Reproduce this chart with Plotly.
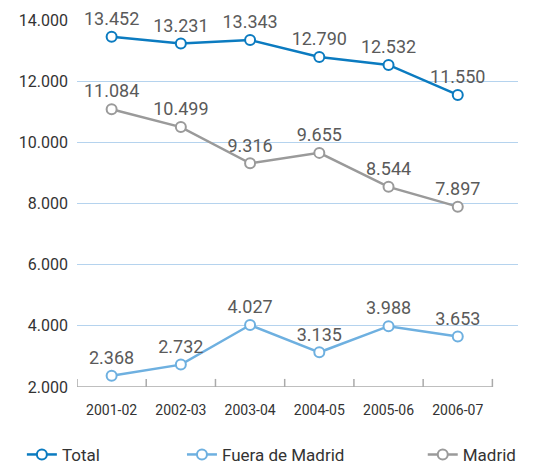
import plotly.graph_objects as go

categories = ["2001-02", "2002-03", "2003-04", "2004-05", "2005-06", "2006-07"]
total = [13452, 13231, 13343, 12790, 12532, 11550]
fuera = [2368, 2732, 4027, 3135, 3988, 3653]
madrid = [11084, 10499, 9316, 9655, 8544, 7897]
y_ticks = [2000, 4000, 6000, 8000, 10000, 12000, 14000]

series = [
    ("Total", total, "#0b7bc0", "legend"),
    ("Fuera de Madrid", fuera, "#6eb0e0", "legend2"),
    ("Madrid", madrid, "#9a9a9a", "legend3"),
]

x = list(range(len(categories)))
fig = go.Figure()
for name, vals, col, lg in series:
    fig.add_trace(go.Scatter(
        x=x, y=vals, name=name, mode="lines+markers+text",
        line=dict(color=col, width=2.5),
        marker=dict(symbol="circle", size=10, color="white", line=dict(color=col, width=2)),
        texttemplate="%{y:,.0f}", textposition="top center",
        textfont=dict(size=18, color="#5a5a5a", family="Roboto"),
        cliponaxis=False, legend=lg,
    ))

n = len(categories)
# bottom axis line and separator ticks
fig.add_shape(type="line", xref="x", yref="y", x0=-0.5, x1=n - 0.5, y0=y_ticks[0], y1=y_ticks[0],
              line=dict(color="#aaaaaa", width=1.5))
for i in range(n + 1):
    fig.add_shape(type="line", xref="x", yref="paper", x0=i - 0.5, x1=i - 0.5, y0=0, y1=0.022,
                  line=dict(color="#aaaaaa", width=1.5))

legfont = dict(size=17, color="#333333", family="Roboto")
fig.update_layout(
    width=541, height=458,
    margin=dict(l=69, r=31, t=12, b=79, autoexpand=False),
    paper_bgcolor="white", plot_bgcolor="white",
    separators=",.",
    font=dict(family="Roboto", color="#333333"),
    xaxis=dict(range=[-0.5, 5.87], tickvals=x, ticktext=categories, showgrid=False,
               zeroline=False, showline=False, ticks="", ticklabelstandoff=13,
               tickfont=dict(size=14, color="#333333"), automargin=False),
    yaxis=dict(range=[2000, 14000], tickvals=y_ticks, tickformat=",.0f", showgrid=True,
               gridcolor="#b5d3ee", gridwidth=1.2, zeroline=False, showline=False,
               ticks="", ticklabelstandoff=8, tickfont=dict(size=16, color="#333333"),
               automargin=False),
    showlegend=True,
    legend=dict(x=-0.125, y=-0.185, xanchor="left", yanchor="middle", orientation="h", font=legfont),
    legend2=dict(x=0.238, y=-0.185, xanchor="left", yanchor="middle", orientation="h", font=legfont),
    legend3=dict(x=0.784, y=-0.185, xanchor="left", yanchor="middle", orientation="h", font=legfont),
)
fig.write_html("out.html")
